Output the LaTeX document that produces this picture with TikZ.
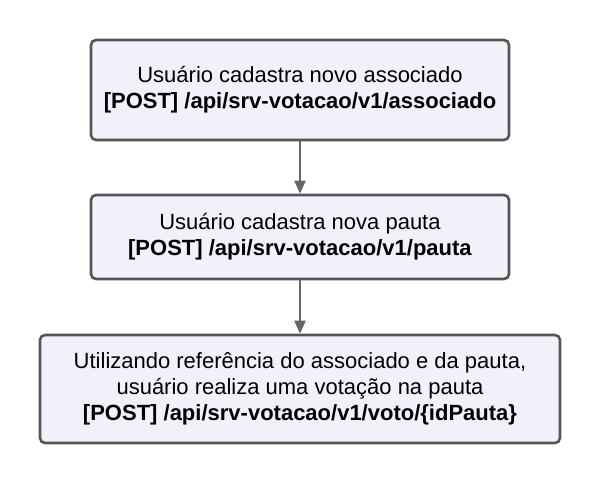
\documentclass[tikz,border=0pt]{standalone}
\usepackage{fontspec}
\setmainfont{Liberation Sans}
\definecolor{boxfill}{HTML}{F1F1FC}
\definecolor{boxline}{HTML}{555555}
\definecolor{arrowgray}{HTML}{666666}
\tikzset{
  stepbox/.style = {draw=boxline, line width=2.6pt, fill=boxfill, rounded corners=5pt,
    align=center, inner sep=0pt, font=\fontsize{22pt}{26pt}\selectfont},
  flow/.style = {draw=arrowgray, line width=2pt, -{Triangle[length=13pt,width=11pt]}}
}
\usetikzlibrary{arrows.meta}
\begin{document}
\begin{tikzpicture}[x=1pt, y=-1pt]
            \useasboundingbox (0,0) rectangle (600,483);
            % Nodes with manual coordinates
            \node[stepbox, minimum width=418pt, minimum height=100pt] (associado) at (300,90)
              {Usuário cadastra novo associado\\ \textbf{[POST] /api/srv-votacao/v1/associado}};
            \node[stepbox, minimum width=418pt, minimum height=84pt] (pauta) at (300,237)
              {Usuário cadastra nova pauta\\ \textbf{[POST] /api/srv-votacao/v1/pauta}};
            \node[stepbox, minimum width=520pt, minimum height=108pt] (voto) at (300,389)
              {Utilizando referência do associado e da pauta,\\ usuário realiza uma votação na pauta\\
               \textbf{[POST] /api/srv-votacao/v1/voto/\{idPauta\}}};

            % Edges
            \draw[flow] (associado) -- (pauta);
            \draw[flow] (pauta) -- (voto);
        \end{tikzpicture}
\end{document}
